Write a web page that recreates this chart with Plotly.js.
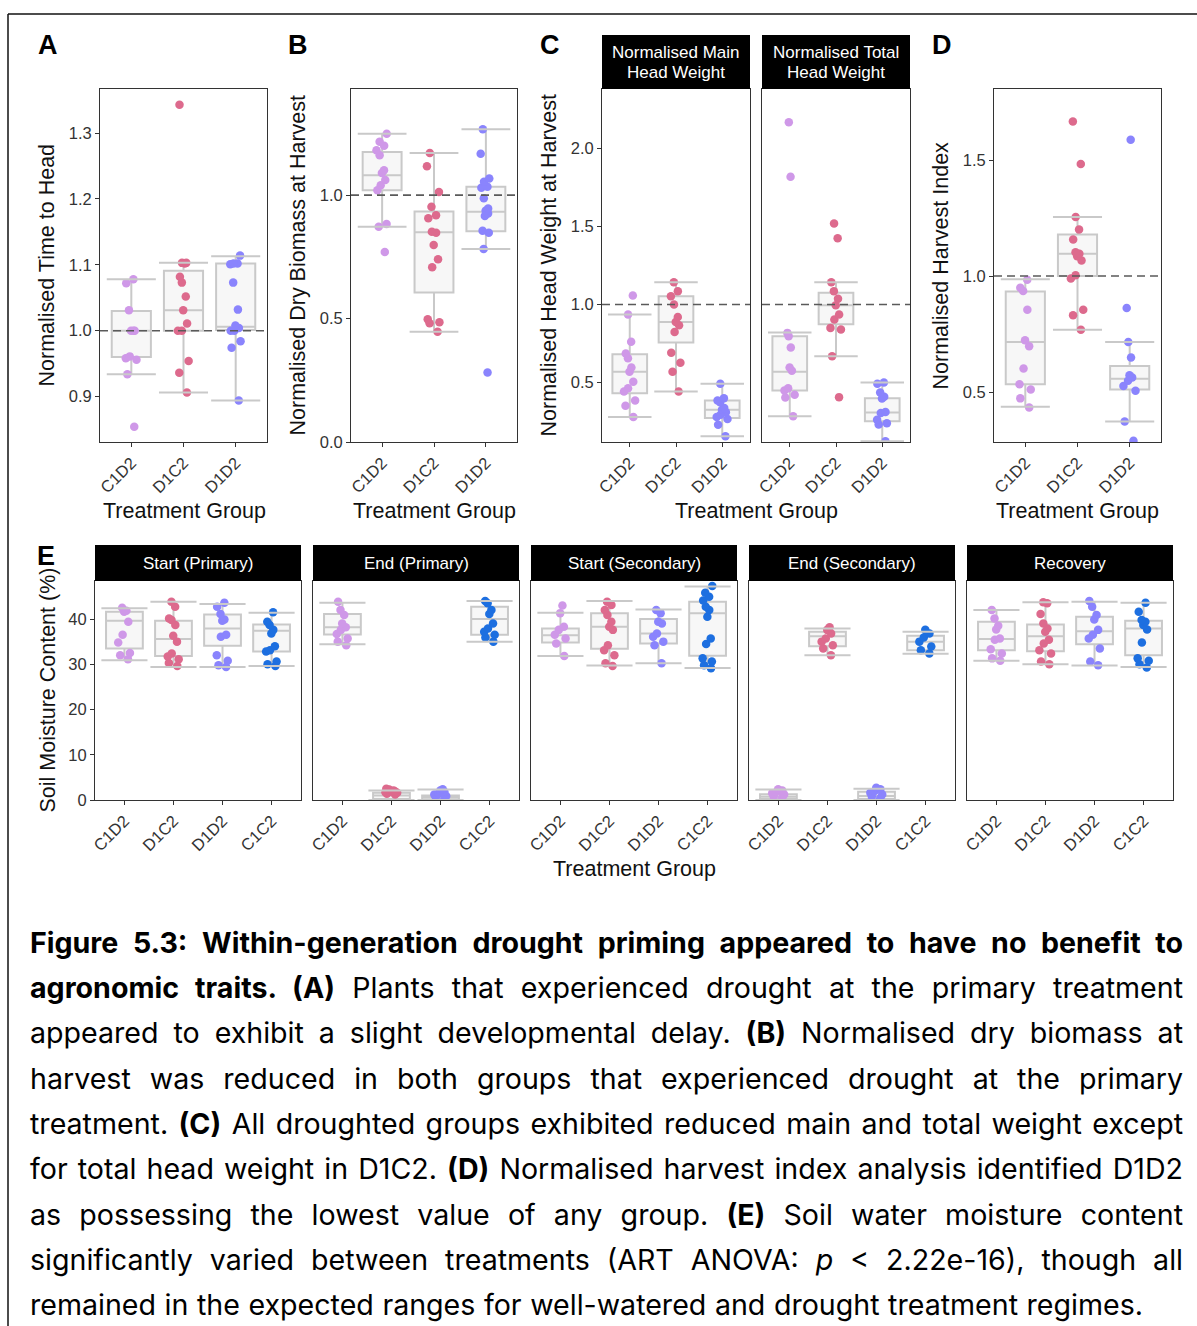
<!DOCTYPE html>
<html><head><meta charset="utf-8">
<script src="https://cdn.plot.ly/plotly-3.0.1.min.js"></script>
<style>
html,body{margin:0;padding:0;background:#fff;}
#chart{position:absolute;left:0;top:0;width:1197px;height:1326px;}
#caption{position:absolute;left:30px;top:0;width:1153px;height:0;font-family:Inter,'Noto Sans',sans-serif;color:#000;z-index:5;}
.ln{position:absolute;left:0;text-align:justify;text-align-last:justify;}
.meas{position:absolute;left:0;top:-2000px;white-space:nowrap;display:inline-block;font-family:Inter,'Noto Sans',sans-serif;}
</style></head><body>
<div id="chart"></div>
<div id="caption"></div>
<script>
// ---------------- DATA ----------------
const groups3 = ['C1D2', 'D1C2', 'D1D2'];
const groups4 = ['C1D2', 'D1C2', 'D1D2', 'C1C2'];
const groupColors = {C1D2: '#cf98e8', D1C2: '#dd6a8d', D1D2: '#8a84fd', C1C2: '#1d6fe0'};

// (A) Normalised Time to Head
const timeToHead = [
  [1.078, 1.072, 1.031, 1.0, 1.0, 1.0, 0.961, 0.958, 0.956, 0.934, 0.854],
  [1.343, 1.103, 1.103, 1.102, 1.082, 1.073, 1.052, 1.031, 1.011, 1.0, 1.0, 0.954, 0.936, 0.906],
  [1.114, 1.102, 1.102, 1.101, 1.073, 1.032, 1.008, 1.004, 1.0, 1.0, 0.984, 0.974, 0.894]
];
const timeToHeadQ1 = [0.960, 1.000, 1.001];
const timeToHeadMed = [1.000, 1.031, 1.006];
const timeToHeadQ3 = [1.030, 1.091, 1.102];
const timeToHeadLo = [0.934, 0.906, 0.894];
const timeToHeadHi = [1.078, 1.103, 1.113];

// (B) Normalised Dry Biomass at Harvest
const dryBiomass = [
  [1.249, 1.216, 1.200, 1.182, 1.162, 1.101, 1.090, 1.061, 1.040, 1.020, 0.883, 0.872, 0.770],
  [1.171, 1.117, 1.013, 0.953, 0.919, 0.906, 0.852, 0.848, 0.798, 0.740, 0.708, 0.497, 0.485, 0.481, 0.447],
  [1.267, 1.168, 1.067, 1.054, 1.034, 1.030, 0.987, 0.946, 0.937, 0.926, 0.916, 0.856, 0.848, 0.782, 0.282]
];
const dryBiomassQ1 = [1.020, 0.606, 0.854];
const dryBiomassMed = [1.081, 0.850, 0.933];
const dryBiomassQ3 = [1.175, 0.934, 1.034];
const dryBiomassLo = [0.872, 0.447, 0.782];
const dryBiomassHi = [1.249, 1.171, 1.267];

// (C) Normalised Main Head Weight
const mainHead = [
  [1.057, 0.936, 0.761, 0.686, 0.655, 0.597, 0.570, 0.506, 0.464, 0.443, 0.386, 0.352, 0.280],
  [1.142, 1.085, 1.053, 1.000, 0.919, 0.888, 0.867, 0.824, 0.691, 0.627, 0.570, 0.443],
  [0.492, 0.400, 0.386, 0.375, 0.337, 0.326, 0.310, 0.294, 0.280, 0.267, 0.231, 0.157]
];
const mainHeadQ1 = [0.432, 0.756, 0.273];
const mainHeadMed = [0.570, 0.888, 0.326];
const mainHeadQ3 = [0.682, 1.053, 0.386];
const mainHeadLo = [0.280, 0.443, 0.157];
const mainHeadHi = [0.936, 1.142, 0.492];

// (C) Normalised Total Head Weight
const totalHead = [
  [2.165, 1.816, 0.818, 0.797, 0.725, 0.597, 0.576, 0.464, 0.449, 0.422, 0.405, 0.284],
  [1.517, 1.424, 1.142, 1.085, 1.036, 0.994, 0.936, 0.903, 0.850, 0.839, 0.669, 0.407],
  [0.500, 0.492, 0.436, 0.410, 0.398, 0.312, 0.305, 0.263, 0.240, 0.232, 0.125]
];
const totalHeadQ1 = [0.449, 0.873, 0.252];
const totalHeadMed = [0.570, 0.994, 0.309];
const totalHeadQ3 = [0.797, 1.074, 0.400];
const totalHeadLo = [0.284, 0.669, 0.125];
const totalHeadHi = [0.820, 1.142, 0.500];

// (D) Normalised Harvest Index
const harvestIndex = [
  [0.984, 0.950, 0.936, 0.855, 0.723, 0.698, 0.602, 0.534, 0.511, 0.473, 0.434],
  [1.666, 1.483, 1.254, 1.201, 1.158, 1.103, 1.096, 1.085, 1.067, 1.003, 0.989, 0.855, 0.831, 0.769],
  [1.587, 0.862, 0.716, 0.649, 0.573, 0.563, 0.549, 0.526, 0.506, 0.373, 0.290]
];
const harvestIndexQ1 = [0.534, 1.000, 0.511];
const harvestIndexMed = [0.716, 1.096, 0.557];
const harvestIndexQ3 = [0.934, 1.179, 0.612];
const harvestIndexLo = [0.437, 0.769, 0.373];
const harvestIndexHi = [0.986, 1.254, 0.716];

// (E) Soil Moisture Content (%)
const stages = ['Start (Primary)', 'End (Primary)', 'Start (Secondary)', 'End (Secondary)', 'Recovery'];
const soilStartPrimary = [
  [42.5, 41.8, 41.6, 39.4, 36.5, 34.8, 32.5, 32.0, 31.1],
  [43.8, 42.7, 40.1, 39.8, 38.7, 36.3, 35.0, 32.4, 31.7, 31.1, 30.3, 29.6],
  [43.6, 42.7, 41.1, 39.9, 39.6, 36.5, 36.1, 32.0, 30.8, 29.8, 29.4],
  [41.5, 39.4, 38.7, 37.6, 36.8, 34.0, 33.1, 32.8, 30.6, 30.0, 29.6]
];
const soilStartPrimaryQ1 = [33.5, 31.8, 34.1, 32.8];
const soilStartPrimaryMed = [39.6, 35.6, 37.9, 37.4];
const soilStartPrimaryQ3 = [41.6, 39.6, 41.0, 38.8];
const soilStartPrimaryLo = [30.9, 29.4, 29.4, 29.6];
const soilStartPrimaryHi = [42.4, 43.8, 43.3, 41.4];

const soilEndPrimary = [
  [43.8, 42.0, 40.9, 39.0, 38.2, 37.6, 36.7, 35.7, 35.0, 34.2],
  [2.5, 2.3, 2.1, 2.0, 1.9, 1.8, 1.7, 1.6, 1.4, 1.2],
  [2.4, 2.1, 1.8, 1.5, 1.2, 0.9, 0.6, 0.3],
  [44.0, 43.5, 42.0, 41.1, 39.0, 37.9, 37.2, 36.5, 35.9, 35.0]
];
const soilEndPrimaryQ1 = [36.6, 0.2, 0.1, 36.5];
const soilEndPrimaryMed = [38.2, 1.0, 0.6, 40.0];
const soilEndPrimaryQ3 = [41.1, 1.6, 1.0, 42.7];
const soilEndPrimaryLo = [34.4, 0.0, 0.0, 35.0];
const soilEndPrimaryHi = [43.6, 2.1, 2.3, 44.0];

const soilStartSecondary = [
  [43.0, 41.3, 38.3, 37.6, 36.5, 35.7, 34.6, 31.8],
  [43.8, 43.1, 42.0, 40.9, 39.4, 38.3, 37.6, 34.2, 33.1, 32.0, 30.2, 29.6],
  [42.0, 41.3, 39.4, 39.0, 36.8, 36.1, 35.0, 34.2, 30.2],
  [47.3, 45.8, 44.9, 44.1, 42.7, 42.0, 40.5, 35.7, 34.5, 31.3, 30.6, 29.8, 29.1]
];
const soilStartSecondaryQ1 = [34.8, 33.4, 34.6, 31.9];
const soilStartSecondaryMed = [36.4, 38.3, 36.8, 41.3];
const soilStartSecondaryQ3 = [37.9, 41.3, 40.0, 43.8];
const soilStartSecondaryLo = [31.8, 29.7, 30.2, 29.2];
const soilStartSecondaryHi = [41.4, 44.0, 42.1, 47.2];

const soilEndSecondary = [
  [2.4, 2.1, 1.8, 1.5, 1.2, 0.8, 0.5],
  [38.2, 37.6, 36.8, 35.7, 35.0, 34.2, 33.5, 32.0],
  [2.7, 2.4, 2.0, 1.6, 1.2, 0.8, 0.4],
  [37.6, 36.8, 35.9, 35.0, 33.9, 33.1, 32.4]
];
const soilEndSecondaryQ1 = [0.2, 34.0, 0.2, 33.1];
const soilEndSecondaryMed = [0.7, 36.2, 0.9, 35.0];
const soilEndSecondaryQ3 = [1.25, 37.2, 1.8, 36.3];
const soilEndSecondaryLo = [0.0, 32.0, 0.0, 32.3];
const soilEndSecondaryHi = [2.3, 37.9, 2.5, 37.2];

const soilRecovery = [
  [42.0, 40.1, 38.5, 37.7, 35.7, 35.4, 33.3, 32.4, 31.3, 30.8],
  [43.7, 43.5, 41.1, 39.0, 37.9, 37.2, 35.4, 34.6, 33.1, 32.4, 30.6, 30.0],
  [44.0, 42.7, 40.9, 39.9, 37.6, 36.5, 35.7, 33.5, 30.6, 29.8],
  [43.6, 41.6, 39.8, 39.4, 38.7, 37.7, 34.8, 31.3, 30.8, 30.0, 29.3]
];
const soilRecoveryQ1 = [33.1, 32.9, 34.4, 32.0];
const soilRecoveryMed = [35.6, 36.2, 37.3, 37.9];
const soilRecoveryQ3 = [39.4, 38.8, 40.5, 39.6];
const soilRecoveryLo = [30.8, 30.0, 29.7, 29.4];
const soilRecoveryHi = [42.0, 43.7, 43.8, 43.6];

const captionLines = [
  '<b>Figure 5.3: Within-generation drought priming appeared to have no benefit to</b>',
  '<b>agronomic traits. (A)</b> Plants that experienced drought at the primary treatment',
  'appeared to exhibit a slight developmental delay. <b>(B)</b> Normalised dry biomass at',
  'harvest was reduced in both groups that experienced drought at the primary',
  'treatment. <b>(C)</b> All droughted groups exhibited reduced main and total weight except',
  'for total head weight in D1C2. <b>(D)</b> Normalised harvest index analysis identified D1D2',
  'as possessing the lowest value of any group. <b>(E)</b> Soil water moisture content',
  'significantly varied between treatments (ART ANOVA: <i>p</i> &lt; 2.22e-16), though all',
  'remained in the expected ranges for well-watered and drought treatment regimes.'
];

// ---------------- LAYOUT ----------------
const W = 1197, H = 1326;
const PX = x => x / W, PY = y => 1 - y / H;
const FONT = 'Liberation Sans, Arial, Helvetica, sans-serif';
const BOXLINE = '#c9c9c9';

function st(q1, med, q3, lo, hi) { return {q1, med, q3, lo, hi}; }

const panels = [
  {x0: 100, x1: 267, y0: 89, y1: 442, cats: groups3, yr: [0.831, 1.367], tv: [0.9, 1.0, 1.1, 1.2, 1.3], fmt: '.1f', ylab: true, ref: 1,
   pts: timeToHead, box: st(timeToHeadQ1, timeToHeadMed, timeToHeadQ3, timeToHeadLo, timeToHeadHi)},
  {x0: 351, x1: 517, y0: 89, y1: 442, cats: groups3, yr: [0, 1.43], tv: [0, 0.5, 1.0], fmt: '.1f', ylab: true, ref: 1,
   pts: dryBiomass, box: st(dryBiomassQ1, dryBiomassMed, dryBiomassQ3, dryBiomassLo, dryBiomassHi)},
  {x0: 602, x1: 750, y0: 89, y1: 442, cats: groups3, yr: [0.12, 2.378], tv: [0.5, 1.0, 1.5, 2.0], fmt: '.1f', ylab: true, ref: 1,
   pts: mainHead, box: st(mainHeadQ1, mainHeadMed, mainHeadQ3, mainHeadLo, mainHeadHi)},
  {x0: 762, x1: 910, y0: 89, y1: 442, cats: groups3, yr: [0.12, 2.378], tv: [0.5, 1.0, 1.5, 2.0], fmt: '.1f', ylab: false, ref: 1,
   pts: totalHead, box: st(totalHeadQ1, totalHeadMed, totalHeadQ3, totalHeadLo, totalHeadHi)},
  {x0: 994, x1: 1161, y0: 89, y1: 442, cats: groups3, yr: [0.285, 1.806], tv: [0.5, 1.0, 1.5], fmt: '.1f', ylab: true, ref: 1,
   pts: harvestIndex, box: st(harvestIndexQ1, harvestIndexMed, harvestIndexQ3, harvestIndexLo, harvestIndexHi)}
];
const soilSets = [
  [soilStartPrimary, st(soilStartPrimaryQ1, soilStartPrimaryMed, soilStartPrimaryQ3, soilStartPrimaryLo, soilStartPrimaryHi)],
  [soilEndPrimary, st(soilEndPrimaryQ1, soilEndPrimaryMed, soilEndPrimaryQ3, soilEndPrimaryLo, soilEndPrimaryHi)],
  [soilStartSecondary, st(soilStartSecondaryQ1, soilStartSecondaryMed, soilStartSecondaryQ3, soilStartSecondaryLo, soilStartSecondaryHi)],
  [soilEndSecondary, st(soilEndSecondaryQ1, soilEndSecondaryMed, soilEndSecondaryQ3, soilEndSecondaryLo, soilEndSecondaryHi)],
  [soilRecovery, st(soilRecoveryQ1, soilRecoveryMed, soilRecoveryQ3, soilRecoveryLo, soilRecoveryHi)]
];
soilSets.forEach((s, k) => {
  const x0 = 95 + 218 * k;
  panels.push({x0: x0, x1: x0 + 206, y0: 581, y1: 800, cats: groups4, yr: [0, 48.4], tv: [0, 10, 20, 30, 40], fmt: 'd',
    ylab: k === 0, ref: null, pts: s[0], box: s[1], strip: stages[k]});
});

const traces = [];
const layout = {
  width: W, height: H, margin: {l: 0, r: 0, t: 0, b: 0}, showlegend: false,
  paper_bgcolor: '#fff', plot_bgcolor: '#fff', font: {family: FONT, color: '#333'},
  boxmode: 'overlay', shapes: [], annotations: []
};

panels.forEach((p, k) => {
  const n = k + 1, sfx = n === 1 ? '' : String(n);
  const xa = 'x' + sfx, ya = 'y' + sfx, m = p.cats.length;
  const idx = p.cats.map((c, i) => i);
  layout['xaxis' + sfx] = {
    domain: [PX(p.x0), PX(p.x1)], anchor: ya, range: [-0.6, m - 0.4], tickvals: idx, ticktext: p.cats,
    tickangle: -45, ticks: 'outside', ticklen: 4, tickwidth: 1, tickcolor: '#333',
    showgrid: false, zeroline: false, showline: true, mirror: true, linecolor: '#333', linewidth: 1,
    tickfont: {family: FONT, size: 16.5, color: '#333'}, fixedrange: true
  };
  layout['yaxis' + sfx] = {
    domain: [PY(p.y1), PY(p.y0)], anchor: xa, range: p.yr, tickvals: p.tv, tickformat: p.fmt,
    ticks: p.ylab ? 'outside' : '', ticklen: 4, tickwidth: 1, tickcolor: '#333', showticklabels: p.ylab,
    showgrid: false, zeroline: false, showline: true, mirror: true, linecolor: '#333', linewidth: 1,
    tickfont: {family: FONT, size: 16.5, color: '#333'}, fixedrange: true
  };
  // boxes from read-off statistics
  traces.push({
    type: 'box', xaxis: xa, yaxis: ya, x: idx, q1: p.box.q1, median: p.box.med, q3: p.box.q3,
    lowerfence: p.box.lo, upperfence: p.box.hi, width: 0.75, whiskerwidth: 0, boxpoints: false,
    fillcolor: '#f7f7f7', line: {color: BOXLINE, width: 2}, hoverinfo: 'skip'
  });
  // whisker caps
  const cx = [], cy = [];
  idx.forEach(i => {
    cx.push(i - 0.47, i + 0.47, null, i - 0.47, i + 0.47, null);
    cy.push(p.box.hi[i], p.box.hi[i], null, p.box.lo[i], p.box.lo[i], null);
  });
  traces.push({type: 'scatter', mode: 'lines', xaxis: xa, yaxis: ya, x: cx, y: cy,
    line: {color: BOXLINE, width: 2}, hoverinfo: 'skip'});
  // reference line
  if (p.ref !== null) {
    traces.push({type: 'scatter', mode: 'lines', xaxis: xa, yaxis: ya, x: [-0.6, m - 0.4], y: [p.ref, p.ref],
      line: {color: '#5a5a5a', width: 1.6, dash: '8px,5px'}, hoverinfo: 'skip'});
  }
  // jittered points
  p.cats.forEach((c, i) => {
    const v = p.pts[i];
    traces.push({
      type: 'box', xaxis: xa, yaxis: ya, x: v.map(() => i), y: v, boxpoints: 'all', jitter: 0.4, pointpos: 0,
      width: 0.75, fillcolor: 'rgba(0,0,0,0)', line: {color: 'rgba(0,0,0,0)', width: 0},
      marker: {color: groupColors[c], size: 8.5, opacity: 1}, hoveron: 'points'
    });
  });
  if (p.strip) {
    layout.shapes.push({type: 'rect', xref: 'paper', yref: 'paper', x0: PX(p.x0), x1: PX(p.x1), y0: PY(581), y1: PY(545),
      fillcolor: '#000', line: {width: 0}});
    layout.annotations.push({xref: 'paper', yref: 'paper', x: PX((p.x0 + p.x1) / 2), y: PY(563), text: p.strip,
      showarrow: false, xanchor: 'center', yanchor: 'middle', font: {family: FONT, size: 17, color: '#fff'}});
  }
});

// C strips
[[602, 750, 'Normalised Main'], [762, 910, 'Normalised Total']].forEach(s => {
  layout.shapes.push({type: 'rect', xref: 'paper', yref: 'paper', x0: PX(s[0]), x1: PX(s[1]), y0: PY(89), y1: PY(35),
    fillcolor: '#000', line: {width: 0}});
  layout.annotations.push({xref: 'paper', yref: 'paper', x: PX((s[0] + s[1]) / 2), y: PY(52.5), text: s[2],
    showarrow: false, xanchor: 'center', yanchor: 'middle', font: {family: FONT, size: 17, color: '#fff'}});
  layout.annotations.push({xref: 'paper', yref: 'paper', x: PX((s[0] + s[1]) / 2), y: PY(72.5), text: 'Head Weight',
    showarrow: false, xanchor: 'center', yanchor: 'middle', font: {family: FONT, size: 17, color: '#fff'}});
});

// outer frame
layout.shapes.push({type: 'line', xref: 'paper', yref: 'paper', x0: PX(8), x1: PX(1197), y0: PY(14), y1: PY(14), line: {color: '#111', width: 1.5}});
layout.shapes.push({type: 'line', xref: 'paper', yref: 'paper', x0: PX(8), x1: PX(8), y0: PY(14), y1: PY(1326), line: {color: '#111', width: 1.5}});

// titles and letters
function ann(x, y, text, size, angle, extra) {
  layout.annotations.push(Object.assign({xref: 'paper', yref: 'paper', x: PX(x), y: PY(y), text: text, showarrow: false,
    xanchor: 'center', yanchor: 'middle', textangle: angle || 0, font: {family: FONT, size: size, color: '#111'}}, extra || {}));
}
ann(47, 265.5, 'Normalised Time to Head', 21.5, -90);
ann(298, 265.5, 'Normalised Dry Biomass at Harvest', 21.5, -90);
ann(549, 265.5, 'Normalised Head Weight at Harvest', 21.5, -90);
ann(941, 265.5, 'Normalised Harvest Index', 21.5, -90);
ann(47, 690.5, 'Soil Moisture Content (%)', 21.5, -90);
ann(184, 511, 'Treatment Group', 21.5);
ann(434, 511, 'Treatment Group', 21.5);
ann(756, 511, 'Treatment Group', 21.5);
ann(1077.5, 511, 'Treatment Group', 21.5);
ann(634, 869, 'Treatment Group', 21.5);
ann(48, 45, '<b>A</b>', 27, 0, {font: {family: FONT, size: 27, color: '#000'}});
ann(298, 45, '<b>B</b>', 27, 0, {font: {family: FONT, size: 27, color: '#000'}});
ann(550, 45, '<b>C</b>', 27, 0, {font: {family: FONT, size: 27, color: '#000'}});
ann(942, 45, '<b>D</b>', 27, 0, {font: {family: FONT, size: 27, color: '#000'}});
ann(46, 556, '<b>E</b>', 27, 0, {font: {family: FONT, size: 27, color: '#000'}});

Plotly.newPlot('chart', traces, layout, {staticPlot: true, displayModeBar: false});

// ---------------- CAPTION ----------------
function layoutCaption() {
  const cap = document.getElementById('caption');
  cap.innerHTML = '';
  const targets = captionLines.map((t, i) => i === captionLines.length - 1 ? 1113 : 1153);
  let fs = 24.5;
  const meas = document.createElement('span');
  meas.className = 'meas';
  document.body.appendChild(meas);
  let ratio = 0;
  captionLines.forEach((t, i) => {
    meas.style.fontSize = fs + 'px';
    meas.innerHTML = t;
    ratio = Math.max(ratio, meas.offsetWidth / targets[i]);
  });
  document.body.removeChild(meas);
  if (ratio > 0) fs = fs * 0.995 / ratio;
  const L = 40;
  captionLines.forEach((t, i) => {
    const d = document.createElement('div');
    d.className = 'ln';
    d.innerHTML = t;
    d.style.fontSize = fs + 'px';
    d.style.lineHeight = L + 'px';
    d.style.width = targets[i] + 'px';
    const center = 942.8 + 45.3 * i;
    d.style.top = (center - L / 2) + 'px';
    cap.appendChild(d);
  });
}
layoutCaption();
if (document.fonts && document.fonts.ready) document.fonts.ready.then(layoutCaption);
</script>
</body></html>
